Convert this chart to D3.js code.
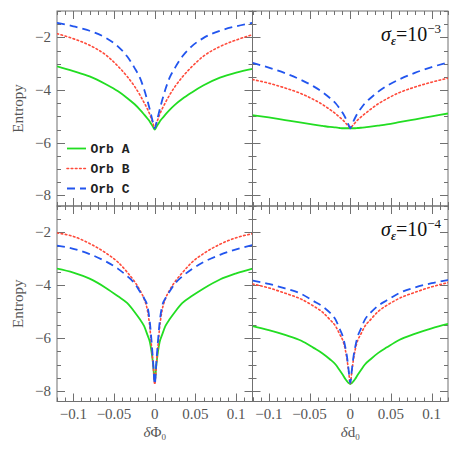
<!DOCTYPE html>
<html><head><meta charset="utf-8">
<script src="https://cdn.jsdelivr.net/npm/d3@7/dist/d3.min.js"></script>
<style>body{margin:0;background:#fff}svg{display:block}</style>
</head><body>
<script>
// ---- data ----
const xVals = [-0.12,-0.1,-0.08,-0.06,-0.045,-0.034,-0.025,-0.018,-0.013,-0.009,-0.006,-0.004,-0.002,0,
               0.002,0.004,0.006,0.009,0.013,0.018,0.025,0.034,0.045,0.06,0.08,0.1,0.12];
const seriesNames = ["Orb A","Orb B","Orb C"];
// top-left: δΦ0, σε=1e-3
const tlA = [-3.1,-3.28,-3.48,-3.78,-4.05,-4.3,-4.53,-4.75,-4.93,-5.08,-5.2,-5.3,-5.4,-5.5,
             -5.4,-5.3,-5.2,-5.08,-4.93,-4.76,-4.55,-4.33,-4.1,-3.82,-3.53,-3.34,-3.2];
const tlB = [-1.86,-2.05,-2.3,-2.67,-3.1,-3.48,-3.85,-4.2,-4.48,-4.72,-4.93,-5.1,-5.28,-5.45,
             -5.28,-5.1,-4.93,-4.72,-4.48,-4.2,-3.86,-3.5,-3.13,-2.71,-2.35,-2.1,-1.9];
const tlC = [-1.45,-1.58,-1.75,-2.02,-2.35,-2.72,-3.15,-3.55,-3.98,-4.4,-4.75,-5.0,-5.25,-5.45,
             -5.25,-5.0,-4.75,-4.4,-3.98,-3.55,-3.15,-2.72,-2.35,-2.02,-1.75,-1.58,-1.45];
// top-right: δd0, σε=1e-3
const trA = [-4.95,-5.04,-5.14,-5.24,-5.31,-5.36,-5.4,-5.42,-5.44,-5.45,-5.45,-5.45,-5.45,-5.45,
             -5.45,-5.45,-5.45,-5.44,-5.43,-5.42,-5.39,-5.35,-5.3,-5.22,-5.11,-5.0,-4.89];
const trB = [-3.6,-3.74,-3.92,-4.14,-4.36,-4.55,-4.74,-4.9,-5.03,-5.14,-5.24,-5.31,-5.38,-5.45,
             -5.38,-5.31,-5.24,-5.14,-5.03,-4.9,-4.73,-4.53,-4.33,-4.1,-3.88,-3.7,-3.55];
const trC = [-2.97,-3.15,-3.36,-3.62,-3.86,-4.08,-4.3,-4.5,-4.7,-4.88,-5.05,-5.18,-5.32,-5.45,
             -5.32,-5.18,-5.05,-4.88,-4.7,-4.5,-4.3,-4.07,-3.84,-3.6,-3.34,-3.13,-2.95];
// bottom-left: δΦ0, σε=1e-4
const blA = [-3.37,-3.52,-3.75,-4.1,-4.42,-4.67,-5.0,-5.3,-5.55,-5.88,-6.15,-6.5,-7.0,-7.65,
             -7.0,-6.5,-6.15,-5.88,-5.55,-5.3,-5.0,-4.67,-4.42,-4.12,-3.78,-3.55,-3.37];
const blB = [-2.02,-2.15,-2.42,-2.78,-3.13,-3.5,-3.85,-4.2,-4.52,-4.95,-5.6,-6.3,-7.0,-7.75,
             -7.0,-6.3,-5.6,-4.95,-4.52,-4.2,-3.86,-3.52,-3.15,-2.8,-2.45,-2.2,-2.05];
const blC = [-2.5,-2.62,-2.82,-3.1,-3.38,-3.65,-3.92,-4.25,-4.5,-4.8,-5.4,-6.1,-6.9,-7.75,
             -6.9,-6.1,-5.4,-4.8,-4.5,-4.25,-3.93,-3.66,-3.4,-3.12,-2.85,-2.64,-2.48];
// bottom-right: δd0, σε=1e-4
const brA = [-5.55,-5.7,-5.88,-6.1,-6.37,-6.58,-6.8,-7.0,-7.22,-7.4,-7.55,-7.63,-7.7,-7.74,
             -7.7,-7.63,-7.55,-7.4,-7.22,-7.0,-6.8,-6.57,-6.35,-6.07,-5.83,-5.63,-5.46];
const brB = [-3.95,-4.1,-4.3,-4.53,-4.79,-5.02,-5.3,-5.55,-5.85,-6.1,-6.45,-6.8,-7.25,-7.72,
             -7.25,-6.8,-6.45,-6.1,-5.85,-5.55,-5.3,-5.0,-4.76,-4.5,-4.26,-4.06,-3.9];
const brC = [-3.82,-3.95,-4.12,-4.33,-4.6,-4.8,-5.04,-5.3,-5.65,-5.95,-6.35,-6.7,-7.2,-7.7,
             -7.2,-6.7,-6.35,-5.95,-5.65,-5.3,-5.04,-4.78,-4.57,-4.3,-4.08,-3.92,-3.8];
const xTickLabels = [-0.1,-0.05,0,0.05,0.1];
const yTickLabels = [-2,-4,-6,-8];
const panelLabels = ["−3","−4"];
const xTitles = ["δΦ","δd"];

// ---- layout ----
const W=458,H=458;
const X0=57, XM=252.5, X1=448, Y0=11, YM=206, Y1=401.5;
const svg=d3.select("body").append("svg").attr("width",W).attr("height",H);
const axisCol="#707070", textCol="#555";
const serif="Liberation Serif, serif";
const colors=["#22dd22","#ff4a3a","#2255ee"];
const dashes=[null,"1.6,2.6","8,5"];

const panels=[
  {c:0,r:0,data:[tlA,tlB,tlC]},
  {c:1,r:0,data:[trA,trB,trC]},
  {c:0,r:1,data:[blA,blB,blC]},
  {c:1,r:1,data:[brA,brB,brC]},
];

panels.forEach(p=>{
  const left=p.c?XM:X0, right=p.c?X1:XM, top=p.r?YM:Y0, bot=p.r?Y1:YM;
  const x=d3.scaleLinear().domain([-0.12,0.12]).range([left,right]);
  const y=d3.scaleLinear().domain([-8.4,-1]).range([bot,top]);
  const g=svg.append("g");
  g.append("rect").attr("x",left).attr("y",top).attr("width",right-left).attr("height",bot-top)
    .attr("fill","none").attr("stroke",axisCol).attr("stroke-width",1);
  // ticks
  const xt=d3.range(-12,13).map(i=>i/100);
  xt.forEach(v=>{
    const major=Math.abs(Math.round(v*100))%5===0;
    const L=major?8:4;
    const xx=Math.round(x(v))+0.5;
    g.append("line").attr("x1",xx).attr("x2",xx).attr("y1",bot).attr("y2",bot-L).attr("stroke",axisCol);
    g.append("line").attr("x1",xx).attr("x2",xx).attr("y1",top).attr("y2",top+L).attr("stroke",axisCol);
  });
  const yt=d3.range(-16,-1).map(i=>i/2);
  yt.forEach(v=>{
    const major=(v%2===0);
    const L=major?8:4;
    const yy=Math.round(y(v))+0.5;
    g.append("line").attr("x1",left).attr("x2",left+L).attr("y1",yy).attr("y2",yy).attr("stroke",axisCol);
    g.append("line").attr("x1",right).attr("x2",right-L).attr("y1",yy).attr("y2",yy).attr("stroke",axisCol);
  });
  if(p.c===0){
    yTickLabels.forEach(v=>{
      g.append("text").attr("x",left-6).attr("y",y(v)+5).attr("text-anchor","end")
        .attr("font-family",serif).attr("font-size",15).attr("fill",textCol)
        .text(v<0?"−"+Math.abs(v):v);
    });
    g.append("text").attr("transform",`translate(23,${(top+bot)/2}) rotate(-90)`)
      .attr("text-anchor","middle").attr("font-family",serif).attr("font-size",15)
      .attr("fill",textCol).text("Entropy");
  }
  if(p.r===1){
    xTickLabels.forEach(v=>{
      g.append("text").attr("x",x(v)).attr("y",bot+17).attr("text-anchor","middle")
        .attr("font-family",serif).attr("font-size",15).attr("fill",textCol)
        .text(v<0?"−"+Math.abs(v):v);
    });
    const t=g.append("text").attr("x",x(0)).attr("y",bot+35).attr("text-anchor","middle")
      .attr("font-family",serif).attr("font-size",15).attr("fill",textCol);
    t.append("tspan").attr("font-style","italic").text("δ");
    t.append("tspan").text(xTitles[p.c].slice(1));
    t.append("tspan").attr("font-size",9).attr("dy",3).text("0");
  }
  if(p.c===1){
    const t=svg.append("text").attr("x",right-7).attr("y",top+30).attr("text-anchor","end")
      .attr("font-family",serif).attr("font-size",20).attr("fill","#111");
    t.append("tspan").attr("font-style","italic").text("σ");
    t.append("tspan").attr("font-size",12).attr("dy",4).attr("font-style","italic").attr("font-weight","bold").text("ε");
    t.append("tspan").attr("dy",-4).text("=10");
    t.append("tspan").attr("font-size",13).attr("dy",-8).text(panelLabels[p.r]);
  }
  // curves
  const clipId="clip"+p.c+p.r;
  svg.append("clipPath").attr("id",clipId).append("rect").attr("x",left).attr("y",top).attr("width",right-left).attr("height",bot-top);
  const line=d3.line().x((d,i)=>x(xVals[i])).y(d=>y(d)).curve(d3.curveMonotoneX);
  p.data.forEach((s,k)=>{
    g.append("path").attr("d",line(s)).attr("fill","none").attr("stroke",colors[k])
      .attr("stroke-width",k===1?1.6:1.8).attr("stroke-dasharray",dashes[k])
      .attr("stroke-linecap",k===1?"round":"butt").attr("clip-path",`url(#${clipId})`);
  });
  // legend
  if(p.c===0&&p.r===0){
    seriesNames.forEach((n,k)=>{
      const yy=148.5+k*20;
      g.append("line").attr("x1",67).attr("x2",86).attr("y1",yy).attr("y2",yy).attr("stroke",colors[k])
        .attr("stroke-width",k===1?1.6:1.8).attr("stroke-dasharray",dashes[k]).attr("stroke-linecap",k===1?"round":"butt");
      g.append("text").attr("x",90.5).attr("y",yy+4.5).attr("font-family","Liberation Mono, monospace")
        .attr("font-weight","bold").attr("font-size",13).attr("fill","#222").text(n);
    });
  }
});
</script>
</body></html>
